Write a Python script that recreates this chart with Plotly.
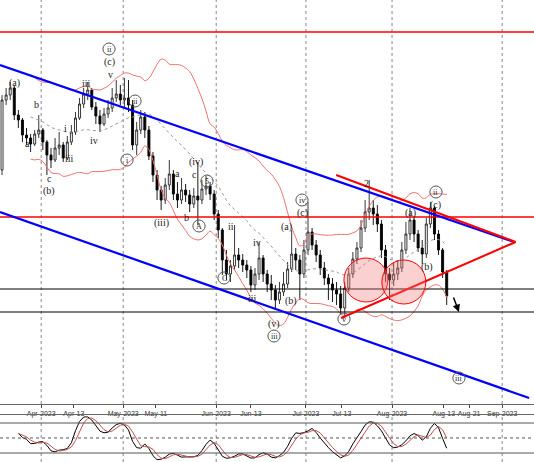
import numpy as np
import pandas as pd
import plotly.graph_objects as go
from plotly.subplots import make_subplots

dates = pd.bdate_range("2023-03-17", "2023-08-17")
first_open = 230
close = [300, 305, 312, 285, 280, 265, 262, 256, 266, 270, 258,
         245, 240, 252, 255, 242, 258, 268, 282, 296, 306, 310, 293, 284, 276, 286, 292, 302, 306, 300, 302,
         295, 255, 270, 283, 270, 244, 225, 210, 200, 215, 226, 206, 200, 210, 205, 196, 204, 200, 211, 214, 206, 186, 170,
         140, 126, 134, 145, 140, 135, 130, 115, 126, 142, 126, 116, 110, 100, 108, 116, 131, 146, 140, 126, 150, 168,
         155, 145, 132, 122, 116, 110, 106, 92, 112, 126, 141, 152, 172, 188, 192, 186, 176, 150, 126, 120, 126,
         132, 150, 166, 180, 166, 152, 146, 176, 192, 166, 150, 128, 104]
high = [305, 312, 318, 314, 290, 282, 272, 266, 270, 285, 272,
        260, 252, 262, 268, 258, 264, 275, 288, 302, 312, 318, 312, 298, 290, 292, 300, 312, 320, 315, 322,
        320, 300, 278, 290, 288, 274, 248, 230, 214, 222, 240, 230, 218, 222, 216, 210, 212, 238, 220, 224, 218, 210, 190,
        172, 150, 140, 175, 152, 146, 140, 134, 132, 158, 145, 130, 125, 115, 118, 128, 138, 170, 152, 145, 160, 198,
        172, 160, 150, 138, 126, 122, 118, 114, 118, 132, 148, 158, 180, 200, 220, 200, 195, 180, 155, 132, 138,
        140, 158, 178, 192, 184, 170, 160, 182, 198, 194, 170, 152, 130]
low = [225, 295, 300, 280, 272, 258, 255, 248, 254, 262, 250,
       225, 232, 238, 245, 238, 240, 255, 265, 280, 292, 300, 290, 276, 268, 274, 282, 288, 298, 295, 292,
       288, 250, 245, 266, 262, 240, 218, 200, 190, 196, 210, 200, 192, 196, 198, 188, 192, 175, 196, 205, 200, 180, 162,
       125, 120, 118, 130, 132, 128, 122, 108, 110, 120, 118, 108, 100, 90, 96, 104, 112, 128, 130, 100, 122, 145,
       150, 138, 125, 115, 100, 98, 95, 85, 82, 108, 122, 136, 148, 168, 180, 175, 168, 142, 118, 100, 114,
       120, 128, 146, 160, 158, 148, 136, 142, 172, 160, 145, 122, 95]

tick_pos = [9.6, 17.6, 29.7, 37.7, 52.5, 61.0, 74.5, 83.3, 95.6, 108.3, 114.5, 122.6]
tick_text = ["Apr-2023", "Apr-13", "May-2023", "May-11", "Jun-2023", "Jun-13",
             "Jul-2023", "Jul-13", "Aug-2023", "Aug-13", "Aug-21", "Sep-2023"]
month_pos = [9.6, 29.7, 52.5, 74.5, 95.6, 122.6]

# trend lines: (x0, y0, x1, y1, color, width) in bar index / price units
lines = [
    (-1, 368, 131, 368, "red", 1.5),
    (-1, 183, 131, 183, "red", 1.5),
    (-1, 111, 131, 111, "black", 1.2),
    (-1, 88, 131, 88, "black", 1.2),
    (-0.5, 335, 125.5, 158, "blue", 2.2),
    (-0.5, 188, 129.2, 2, "blue", 2.2),
    (81.9, 225, 125.9, 158, "red", 2),
    (83.1, 82, 125.9, 158, "red", 2),
]
circles = [(89.2, 120, 22), (98.5, 118, 22)]

# wave labels: (x px, y px, text, circled)
labels = [(10, 83, "(a)", 0), (32, 104, "b", 0), (23, 143, "a", 0), (45, 178, "c", 0), (45, 191, "(b)", 0),
          (82, 83, "iii", 0), (61, 128, "i", 0), (65, 158, "iii", 0), (90, 140, "iv", 0),
          (106, 74, "v", 0), (105, 62, "(c)", 0), (105, 49, "ii", 1), (131, 101, "ii", 1), (123, 160, "i", 1),
          (192, 162, "(iv)", 0), (190, 174, "c", 0), (173, 173, "a", 0), (203, 181, "5", 1), (157, 223, "(iii)", 0),
          (182, 217, "b", 0), (195, 226, "A", 1), (227, 226, "ii", 0), (253, 242, "iv", 0), (220, 278, "C", 1),
          (248, 298, "iii", 0), (282, 227, "(a)", 0), (287, 301, "(b)", 0), (298, 213, "(c)", 0), (298, 200, "iv", 1),
          (270, 324, "(v)", 0), (270, 336, "iii", 1), (340, 319, "v", 1), (363, 183, "2", 0),
          (407, 213, "(a)", 0), (423, 267, "(b)", 0), (432, 205, "(c)", 0), (432, 192, "ii", 1), (455, 378, "iii", 1)]

df = pd.DataFrame({"close": close, "high": high, "low": low})
df["open"] = [first_open] + close[:-1]
df["x"] = np.arange(len(df))
mid = df["close"].rolling(20, min_periods=8).mean()
sd = df["close"].rolling(20, min_periods=8).std()
upper = mid + 2 * sd
lower = mid - 2 * sd
hh = df["high"].rolling(14, min_periods=5).max()
ll = df["low"].rolling(14, min_periods=5).min()
k = (100 * (df["close"] - ll) / (hh - ll)).rolling(3, min_periods=1).mean()
d = k.rolling(3, min_periods=1).mean()

fig = make_subplots(rows=2, cols=1, shared_xaxes=False, vertical_spacing=0)
fig.add_trace(go.Candlestick(x=df["x"], open=df["open"], high=df["high"], low=df["low"], close=df["close"],
                             increasing=dict(line=dict(color="#222", width=0.9), fillcolor="white"),
                             decreasing=dict(line=dict(color="black", width=0.9), fillcolor="black"),
                             whiskerwidth=0, showlegend=False), row=1, col=1)
for s in (upper, lower):
    fig.add_trace(go.Scatter(x=df["x"], y=s, mode="lines", line=dict(color="#f07070", width=1, shape="spline"),
                             showlegend=False), row=1, col=1)
fig.add_trace(go.Scatter(x=df["x"], y=mid, mode="lines", line=dict(color="#999", width=1, dash="dot"),
                         showlegend=False), row=1, col=1)
fig.add_trace(go.Scatter(x=df["x"], y=k, mode="lines", line=dict(color="black", width=1), showlegend=False), row=2, col=1)
fig.add_trace(go.Scatter(x=df["x"], y=d, mode="lines", line=dict(color="#c05050", width=1), showlegend=False), row=2, col=1)

for x0, y0, x1, y1, c, w in lines:
    fig.add_shape(type="line", x0=x0, y0=y0, x1=x1, y1=y1, line=dict(color=c, width=w), xref="x", yref="y")
for cx, cy, r in circles:
    fig.add_shape(type="circle", x0=cx - r / 4.08, x1=cx + r / 4.08, y0=cy - r, y1=cy + r, xref="x", yref="y",
                  line=dict(color="red", width=1), fillcolor="rgba(240,120,120,0.35)")
for xp, yp, t, circ in labels:
    bx = (xp + 2) / 4.08
    py = 400 - yp
    fig.add_annotation(x=bx, y=py, text=t, showarrow=False, xref="x", yref="y",
                       font=dict(family="Liberation Serif", size=10 if not circ else 8, color="#222"))
    if circ:
        fig.add_shape(type="circle", x0=bx - 1.5, x1=bx + 1.5, y0=py - 6, y1=py + 6, xref="x", yref="y",
                      line=dict(color="#555", width=1))
fig.add_annotation(x=(455 + 2) / 4.08, y=400 - 312, ax=(449 + 2) / 4.08, ay=400 - 296, xref="x", yref="y",
                   axref="x", ayref="y", showarrow=True, arrowhead=2, arrowsize=1, arrowwidth=1.5, arrowcolor="black", text="")
for mp in month_pos:
    for yr in ("y domain", "y2 domain"):
        fig.add_shape(type="line", x0=mp, x1=mp, y0=0, y1=1, xref="x" if yr == "y domain" else "x2", yref=yr,
                      line=dict(color="#888", width=1, dash="dot"), layer="below")
for lvl, ds in ((80, "solid"), (50, "dot"), (20, "solid")):
    fig.add_shape(type="line", x0=-0.5, x1=131, y0=lvl, y1=lvl, xref="x2", yref="y2",
                  line=dict(color="#555", width=1, dash=ds))

xr = [-0.5, 130.4]
fig.update_layout(width=534, height=462, margin=dict(l=0, r=0, t=0, b=0, autoexpand=False), plot_bgcolor="white",
                  paper_bgcolor="white", font=dict(family="Liberation Sans", size=7, color="#333"))
fig.update_xaxes(range=xr, rangeslider_visible=False, showgrid=False, zeroline=False, automargin=False)
fig.update_xaxes(row=1, col=1, tickvals=tick_pos, ticktext=tick_text, ticks="outside", ticklen=3, tickangle=0,
                 showline=True, linecolor="#666", mirror=False)
fig.update_xaxes(row=2, col=1, showticklabels=False, showline=True, linecolor="#666", mirror=True)
fig.update_yaxes(row=1, col=1, range=[-4, 400], domain=[1 - 404 / 462, 1], showticklabels=False,
                 showgrid=False, zeroline=False, automargin=False)
fig.update_yaxes(row=2, col=1, range=[2, 96], domain=[0, 47 / 462], showticklabels=False, automargin=False,
                 showgrid=False, zeroline=False, showline=True, linecolor="#666", mirror=True)
fig.write_html("out.html", config={"displayModeBar": False},
               post_script="document.body.style.margin='0';document.body.style.overflow='hidden';")
